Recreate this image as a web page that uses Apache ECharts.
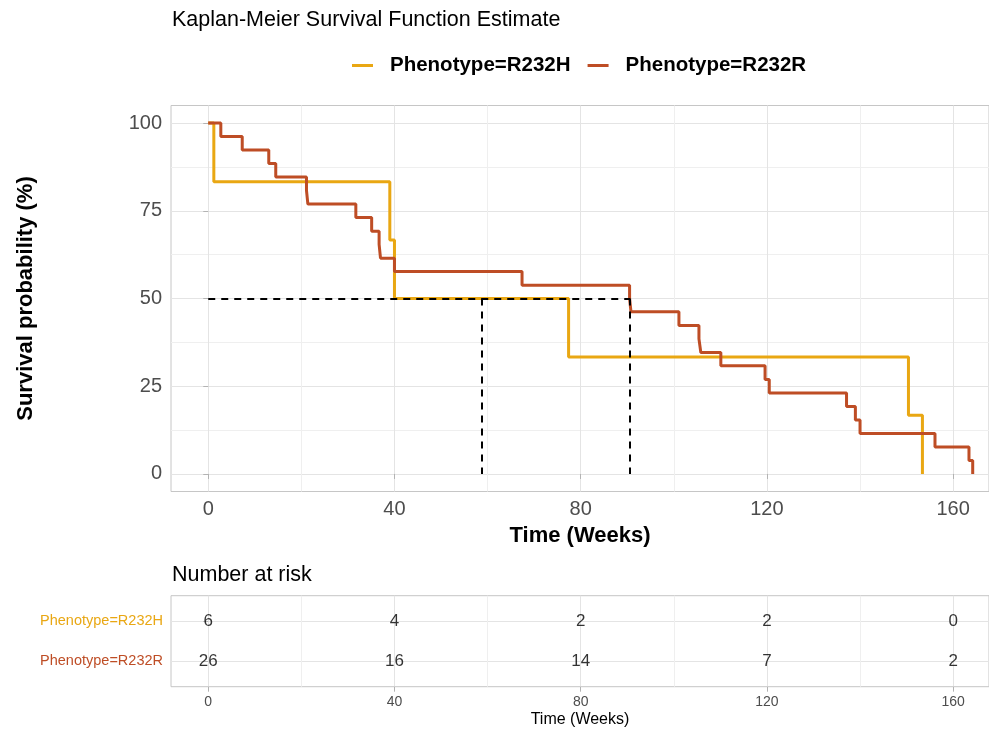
<!DOCTYPE html>
<html><head><meta charset="utf-8">
<script src="https://cdn.jsdelivr.net/npm/echarts@6/dist/echarts.min.js"></script>
<style>html,body{margin:0;padding:0;background:#fff}#c{width:989px;height:729px}</style>
</head><body><div id="c"></div>
<script>
// ---- data ----
const groups = ['Phenotype=R232H', 'Phenotype=R232R'];
const timeH = [0, 1.2, 39.0, 40.0, 77.4, 150.4, 153.4];
const survH = [100, 83.3, 66.7, 50.0, 33.3, 16.7, 0];
const timeR = [0, 2.7, 7.3, 13.0, 14.5, 21.1, 21.4, 31.7, 35.1, 36.7, 37.0, 40.0, 67.4, 90.5, 90.8, 101.1, 105.4, 105.8, 110.1, 119.6, 120.5, 137.1, 139.0, 140.0, 156.1, 163.4, 164.2];
const survR = [100, 96.2, 92.3, 88.5, 84.6, 80.8, 76.9, 73.1, 69.2, 65.4, 61.5, 57.7, 53.8, 50.0, 46.2, 42.3, 38.5, 34.6, 30.8, 26.9, 23.1, 19.2, 15.4, 11.5, 7.7, 3.8, 0];
const medianTimes = [58.7, 90.6];
const medianLevel = 50;
const xTicks = [0, 40, 80, 120, 160];
const xMinorTicks = [20, 60, 100, 140];
const yTicks = [0, 25, 50, 75, 100];
const yMinorTicks = [12.5, 37.5, 62.5, 87.5];
const riskTimes = [0, 40, 80, 120, 160];
const riskH = [6, 4, 2, 2, 0];
const riskR = [26, 16, 14, 7, 2];
const riskRows = [2, 1]; // row position of each group in the table

// ---- styling ----
const colors = ['#E9A713', '#BE4D25'];
const FONT = "'Liberation Sans', Arial, Helvetica, sans-serif";
const GRID_MAJ = '#e4e4e4', GRID_MIN = '#efefef', BORDER = '#c6c6c6', TICK = '#b3b3b3', LAB = '#4d4d4d';
const X_MIN = -8, X_MAX = 167.7;

const zip = (a, b) => a.map((v, i) => [v, b[i]]);

const chart = echarts.init(document.getElementById('c'), null, { renderer: 'canvas' });

const minorAxis = (gridIndex, vals, isX, min, max) => ({
  gridIndex, type: 'value', min, max, show: true,
  axisLine: { show: false }, axisTick: { show: false, customValues: vals },
  axisLabel: { show: false }, splitLine: { show: true, lineStyle: { color: GRID_MIN, width: 1 } },
  z: 0
});

const option = {
  animation: false,
  backgroundColor: '#fff',
  textStyle: { fontFamily: FONT },
  title: [
    { text: 'Kaplan-Meier Survival Function Estimate', left: 172, top: 9, padding: 0,
      textStyle: { fontSize: 21.5, fontWeight: 'normal', color: '#000', fontFamily: FONT } },
    { text: 'Number at risk', left: 172, top: 564, padding: 0,
      textStyle: { fontSize: 21.5, fontWeight: 'normal', color: '#000', fontFamily: FONT } }
  ],
  legend: {
    data: groups, left: 352, top: 55, padding: 0, icon: 'rect', itemWidth: 21, itemHeight: 3, itemGap: 17,
    textStyle: { fontSize: 20.5, fontWeight: 'bold', color: '#000', fontFamily: FONT, padding: [0, 0, 0, 12] }
  },
  grid: [
    { left: 171, top: 105.5, width: 819, height: 386, show: true, borderColor: BORDER, borderWidth: 1, backgroundColor: 'transparent' },
    { left: 171, top: 595.7, width: 819, height: 91, show: true, borderColor: BORDER, borderWidth: 1, backgroundColor: 'transparent' }
  ],
  xAxis: [
    { gridIndex: 0, type: 'value', min: X_MIN, max: X_MAX,
      axisLine: { show: false },
      axisTick: { show: true, customValues: xTicks, length: 5, lineStyle: { color: TICK } },
      axisLabel: { customValues: xTicks, fontSize: 20, color: LAB, margin: 8, fontFamily: FONT },
      splitLine: { show: true, lineStyle: { color: GRID_MAJ, width: 1 } },
      name: 'Time (Weeks)', nameLocation: 'middle', nameGap: 33,
      nameTextStyle: { fontSize: 22, fontWeight: 'bold', color: '#000', fontFamily: FONT } },
    minorAxis(0, xMinorTicks, true, X_MIN, X_MAX),
    { gridIndex: 1, type: 'value', min: X_MIN, max: X_MAX,
      axisLine: { show: false },
      axisTick: { show: true, customValues: xTicks, length: 5, lineStyle: { color: TICK } },
      axisLabel: { customValues: xTicks, fontSize: 14, color: LAB, margin: 8, fontFamily: FONT },
      splitLine: { show: true, lineStyle: { color: GRID_MAJ, width: 1 } },
      name: 'Time (Weeks)', nameLocation: 'middle', nameGap: 25,
      nameTextStyle: { fontSize: 16, color: '#000', fontFamily: FONT } },
    minorAxis(1, xMinorTicks, true, X_MIN, X_MAX)
  ],
  yAxis: [
    { gridIndex: 0, type: 'value', min: -5, max: 105,
      axisLine: { show: false },
      axisTick: { show: true, customValues: yTicks, length: 5, lineStyle: { color: TICK } },
      axisLabel: { customValues: yTicks, fontSize: 20, color: LAB, margin: 9, fontFamily: FONT },
      splitLine: { show: true, lineStyle: { color: GRID_MAJ, width: 1 } },
      name: 'Survival probability (%)', nameLocation: 'middle', nameRotate: 90, nameGap: 134,
      nameTextStyle: { fontSize: 22, fontWeight: 'bold', color: '#000', fontFamily: FONT } },
    minorAxis(0, yMinorTicks, false, -5, 105),
    { gridIndex: 1, type: 'value', min: 0.37, max: 2.63,
      axisLine: { show: false },
      axisTick: { show: true, customValues: riskRows, length: 5, lineStyle: { color: TICK } },
      axisLabel: { customValues: riskRows, fontSize: 14.5, margin: 8, fontFamily: FONT,
        formatter: v => (v === riskRows[0] ? '{h|' + groups[0] + '}' : '{r|' + groups[1] + '}'),
        rich: { h: { color: colors[0], fontSize: 14.5, fontFamily: FONT }, r: { color: colors[1], fontSize: 14.5, fontFamily: FONT } } },
      splitLine: { show: true, lineStyle: { color: GRID_MAJ, width: 1 } } }
  ],
  series: [
    { name: groups[0], type: 'line', xAxisIndex: 0, yAxisIndex: 0, step: 'end', symbol: 'none',
      data: zip(timeH, survH), lineStyle: { color: colors[0], width: 3 }, itemStyle: { color: colors[0] }, z: 3 },
    { name: groups[1], type: 'line', xAxisIndex: 0, yAxisIndex: 0, step: 'end', symbol: 'none',
      data: zip(timeR, survR), lineStyle: { color: colors[1], width: 3 }, itemStyle: { color: colors[1] }, z: 4 },
    { name: 'median', type: 'line', xAxisIndex: 0, yAxisIndex: 0, data: [], symbol: 'none', z: 5,
      markLine: { silent: true, symbol: 'none', animation: false,
        lineStyle: { color: '#000', width: 2, type: [7, 6] }, label: { show: false },
        data: [[{ coord: [0, medianLevel] }, { coord: [Math.max(...medianTimes), medianLevel] }]]
          .concat(medianTimes.map(t => [{ coord: [t, medianLevel] }, { coord: [t, 0] }])) } },
    { name: 'riskH', type: 'scatter', xAxisIndex: 2, yAxisIndex: 2, symbolSize: 1,
      itemStyle: { color: 'rgba(0,0,0,0)' },
      data: riskTimes.map((t, i) => [t, riskRows[0], riskH[i]]),
      label: { show: true, position: 'inside', formatter: p => String(p.value[2]), fontSize: 17, color: '#000', fontFamily: FONT } },
    { name: 'riskR', type: 'scatter', xAxisIndex: 2, yAxisIndex: 2, symbolSize: 1,
      itemStyle: { color: 'rgba(0,0,0,0)' },
      data: riskTimes.map((t, i) => [t, riskRows[1], riskR[i]]),
      label: { show: true, position: 'inside', formatter: p => String(p.value[2]), fontSize: 17, color: '#000', fontFamily: FONT } }
  ]
};
chart.setOption(option);
</script>
</body></html>
